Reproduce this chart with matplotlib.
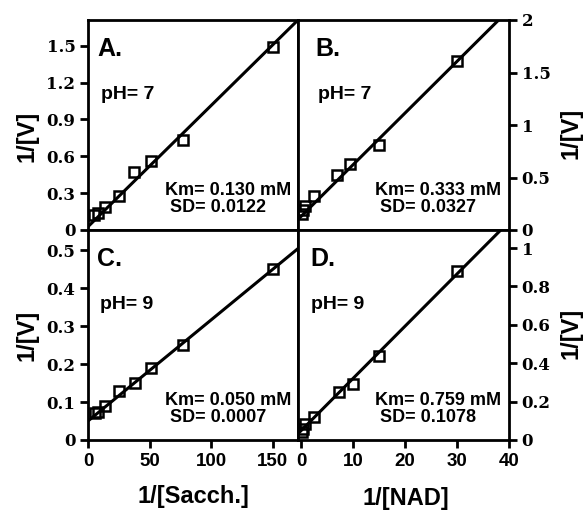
import matplotlib.pyplot as plt

# panel A / C : 1/[Sacch.] ; panel B / D : 1/[NAD]
a_x = [5, 8, 14, 25, 37, 51, 77, 150]
a_y = [0.12, 0.14, 0.19, 0.28, 0.47, 0.56, 0.73, 1.49]
b_x = [0.2, 0.4, 0.7, 2.5, 7, 9.5, 15, 30]
b_y = [0.15, 0.19, 0.23, 0.32, 0.52, 0.63, 0.81, 1.61]
c_x = [6, 8, 14, 25, 38, 51, 77, 150]
c_y = [0.07, 0.075, 0.09, 0.13, 0.15, 0.19, 0.25, 0.45]
d_x = [0.2, 0.4, 0.8, 2.5, 7.2, 10, 15, 30]
d_y = [0.04, 0.055, 0.085, 0.12, 0.25, 0.29, 0.44, 0.88]

# fitted lines (slope, intercept)
fits = {'A': (0.00986, 0.027), 'B': (0.0492, 0.13),
        'C': (0.00266, 0.05), 'D': (0.0272, 0.049)}

letters = ['A.', 'B.', 'C.', 'D.']
ph = ['pH= 7', 'pH= 7', 'pH= 9', 'pH= 9']
km = ['Km= 0.130 mM', 'Km= 0.333 mM', 'Km= 0.050 mM', 'Km= 0.759 mM']
sd = ['SD= 0.0122', 'SD= 0.0327', 'SD= 0.0007', 'SD= 0.1078']

a_ticks = [0, 0.3, 0.6, 0.9, 1.2, 1.5]
b_ticks = [0, 0.5, 1, 1.5, 2]
c_ticks = [0, 0.1, 0.2, 0.3, 0.4, 0.5]
d_ticks = [0, 0.2, 0.4, 0.6, 0.8, 1]
sacch_ticks = [0, 50, 100, 150]
nad_ticks = [0, 10, 20, 30, 40]

W, H = 583, 513
fig = plt.figure(figsize=(W / 100, H / 100), dpi=100)

x0, xm, x1 = 88, 298, 509
y0, ym, y1 = 20, 230, 440


def box(l, r, t, b):
    return [l / W, 1 - b / H, (r - l) / W, (b - t) / H]


axA = fig.add_axes(box(x0, xm, y0, ym))
axB = fig.add_axes(box(xm, x1, y0, ym))
axC = fig.add_axes(box(x0, xm, ym, y1))
axD = fig.add_axes(box(xm, x1, ym, y1))
axes = [axA, axB, axC, axD]

xlims = [(0, 170.7), (-0.6, 40), (0, 170.7), (-0.6, 40)]
ylims = [(0, 1.71), (0, 2.0), (0, 0.553), (0, 1.094)]
data = [(a_x, a_y), (b_x, b_y), (c_x, c_y), (d_x, d_y)]
keys = ['A', 'B', 'C', 'D']
letter_x = [0.043, 0.08, 0.043, 0.06]
ph_x = [0.062, 0.095, 0.057, 0.06]

serif = 'DejaVu Serif'
sans = 'Liberation Sans'

for i, ax in enumerate(axes):
    ax.set_xlim(xlims[i])
    ax.set_ylim(ylims[i])
    for s in ax.spines.values():
        s.set_linewidth(2.0)
    xs, ys = data[i]
    m, c = fits[keys[i]]
    lx = list(xlims[i])
    ax.plot(lx, [m * v + c for v in lx], color='black', lw=2.2)
    ax.plot(xs, ys, 's', ms=7.5, mfc='none', mec='black', mew=1.8)
    ax.text(letter_x[i], 0.92, letters[i], transform=ax.transAxes,
            fontsize=18, fontweight='bold', family=sans, va='top')
    ax.text(ph_x[i], 0.624, ph[i], transform=ax.transAxes,
            fontsize=14, fontweight='bold', family=sans, va='baseline')
    ax.text(0.367, 0.167, km[i], transform=ax.transAxes,
            fontsize=13, fontweight='bold', family=sans, va='baseline')
    ax.text(0.39, 0.086, sd[i], transform=ax.transAxes,
            fontsize=13, fontweight='bold', family=sans, va='baseline')
    ax.tick_params(direction='out', width=2.0, length=6)

for ax, ticks in [(axA, a_ticks), (axC, c_ticks)]:
    ax.set_yticks(ticks)
    ax.set_yticklabels([('%g' % t) for t in ticks], family=serif,
                       fontweight='bold', fontsize=12)
    ax.tick_params(axis='y', left=True, right=False, pad=3)

for ax, ticks in [(axB, b_ticks), (axD, d_ticks)]:
    ax.yaxis.tick_right()
    ax.set_yticks(ticks)
    ax.set_yticklabels([('%g' % t) for t in ticks], family=serif,
                       fontweight='bold', fontsize=12)
    ax.tick_params(axis='y', left=False, right=True, pad=3)

for ax in [axA, axB]:
    ax.set_xticks([])

axC.set_xticks(sacch_ticks)
axC.set_xticklabels([str(t) for t in sacch_ticks], family=sans,
                    fontweight='bold', fontsize=13.5)
axD.set_xticks(nad_ticks)
axD.set_xticklabels([str(t) for t in nad_ticks], family=sans,
                    fontweight='bold', fontsize=13.5)

lab = dict(fontsize=17, fontweight='bold', family=sans,
           ha='center', va='center')
fig.text(27 / W, 1 - 136 / H, '1/[V]', rotation=90, **lab)
fig.text(27 / W, 1 - 335 / H, '1/[V]', rotation=90, **lab)
fig.text(571 / W, 1 - 133 / H, '1/[V]', rotation=90, **lab)
fig.text(571 / W, 1 - 333 / H, '1/[V]', rotation=90, **lab)
fig.text(193 / W, 1 - 497 / H, '1/[Sacch.]', **lab)
fig.text(406 / W, 1 - 498 / H, '1/[NAD]', **lab)

fig.savefig('out.png', dpi=100)
